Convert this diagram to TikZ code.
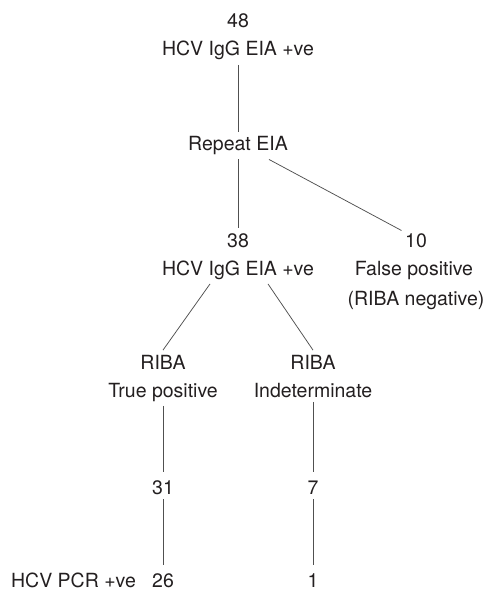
\documentclass[tikz,border=0pt]{standalone}
\usepackage{fontspec}
\setmainfont{TeX Gyre Heros}
\definecolor{inkTxt}{HTML}{231F20}
\definecolor{inkLine}{HTML}{505050}

\begin{document}
\begin{tikzpicture}[x=1pt,y=-1pt,
		lbl/.style={anchor=base,inner sep=4.5pt,text=inkTxt,font=\fontsize{19.5}{23}\selectfont},
		link/.style={-,draw=inkLine,line width=0.75pt}]
				
				\useasboundingbox (0,0) rectangle (489,591);
				
				% first screening
				\node[lbl] (n48) at (238,28) {48};
				\node[lbl] (eiaTop) at (238,56) {HCV IgG EIA +ve};
				\node[lbl] (rep) at (238,150.5) {Repeat EIA};
				\draw[link] (eiaTop.south) -- (rep.north);
				
				% after repeat
				\node[lbl] (n38) at (238,247) {38};
				\node[lbl] (eiaMid) at (238,275) {HCV IgG EIA +ve};
				\node[lbl] (n10) at (416,247) {10};
				\node[lbl] (falsePos) at (414,275) {False positive};
				\node[lbl] (ribaNeg) at (416,305) {(RIBA negative)};
				\draw[link] (rep.south) -- (n38.north);
				\draw[link] ([xshift=31pt]rep.south) -- ([xshift=1pt,yshift=-2pt]n10.north west);
				
				% RIBA
				\node[lbl] (ribaT) at (163,369) {RIBA};
				\node[lbl] (truePos) at (163,397) {True positive};
				\node[lbl] (ribaI) at (313,369) {RIBA};
				\node[lbl] (indet) at (313,397) {Indeterminate};
				\draw[link] ([xshift=-28pt]eiaMid.south) -- (ribaT.north);
				\draw[link] ([xshift=30pt]eiaMid.south) -- (ribaI.north);
				
				% counts
				\node[lbl] (n31) at (163,494.5) {31};
				\node[lbl] (n7) at (313,494.5) {7};
				\draw[link] (truePos.south) -- ([yshift=4pt]n31.north);
				\draw[link] (indet.south) -- ([yshift=4pt]n7.north);
				
				% PCR
				\node[lbl,inner ysep=0pt] (pcr) at (73.5,587) {HCV PCR +ve};
				\node[lbl,inner ysep=0pt] (n26) at (163,587) {26};
				\node[lbl,inner ysep=0pt] (n1) at (313,587) {1};
				\draw[link] (n31.south) -- ([yshift=8pt]n26.north);
				\draw[link] (n7.south) -- ([yshift=8pt]n1.north);
				
			\end{tikzpicture}
\end{document}
